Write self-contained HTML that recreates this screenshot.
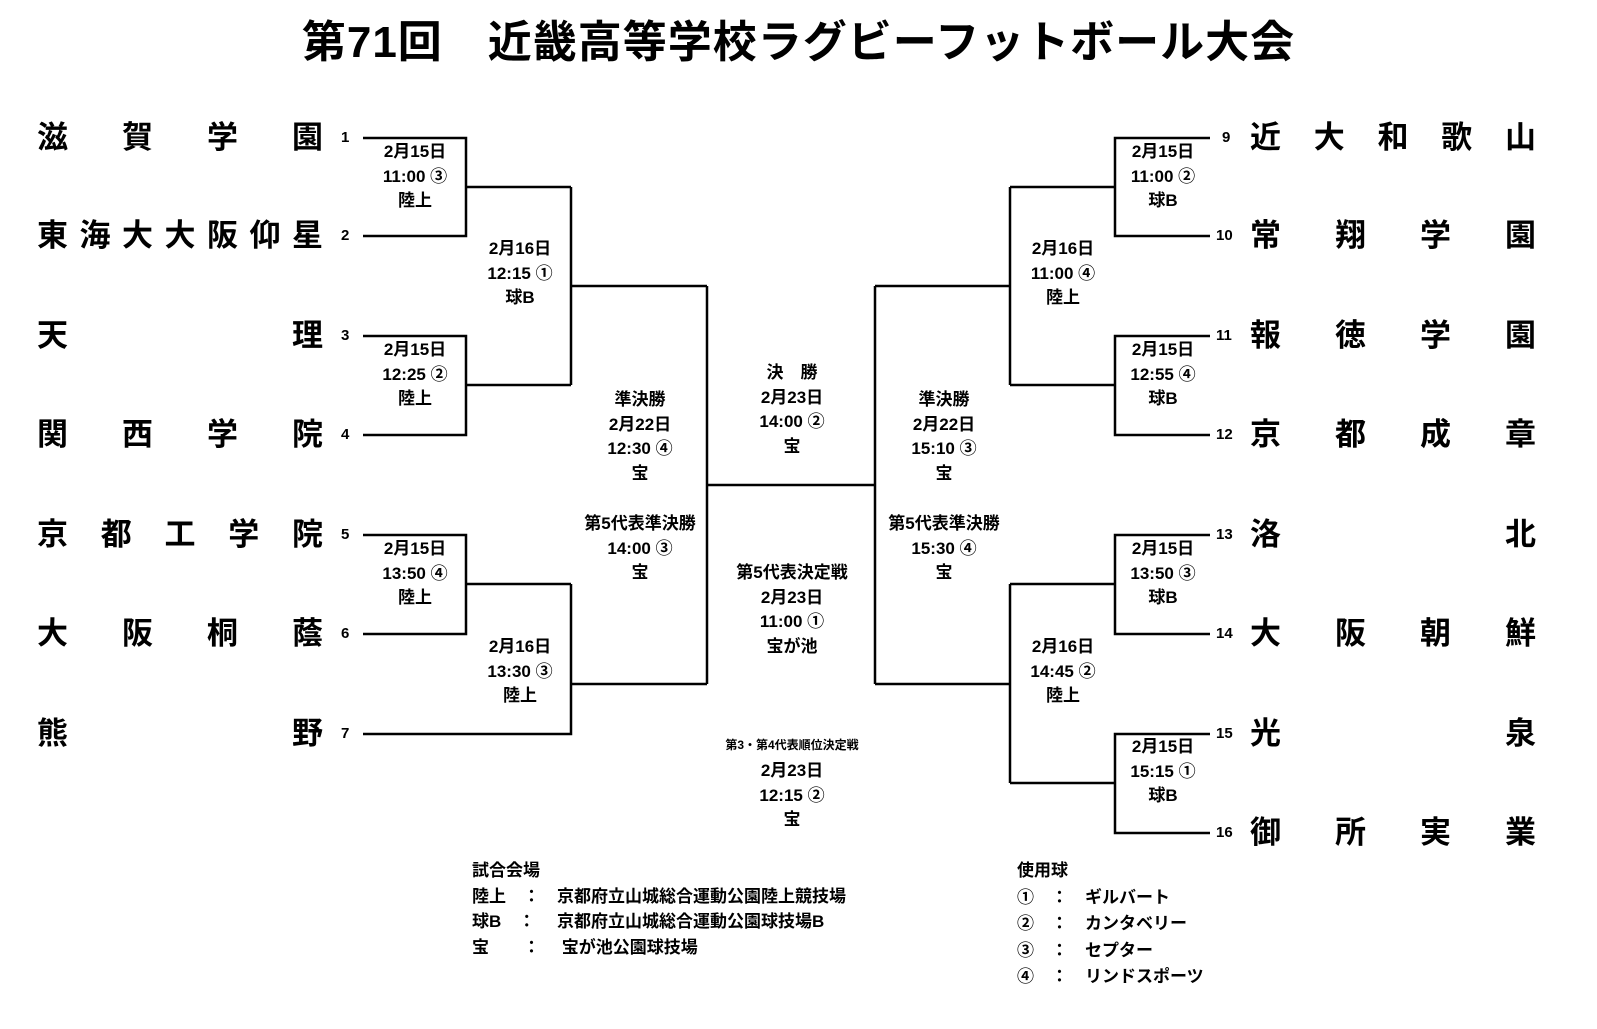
<!DOCTYPE html>
<html><head><meta charset="utf-8"><style>
body{margin:0;width:1597px;height:1029px;background:#fff;position:relative;overflow:hidden;font-family:"Liberation Sans","Noto Sans CJK JP",sans-serif;font-weight:bold;color:#000}
.t{position:absolute;left:0;top:6px;width:1597px;text-align:center;font-size:44px;letter-spacing:1px}
.n{position:absolute;display:flex;justify-content:space-between;width:286px;font-size:31px;line-height:36px;height:36px}
.num{position:absolute;font-size:15px;line-height:18px}
.l{position:absolute;width:160px;margin-left:-80px;text-align:center;font-size:17px;line-height:24.5px}
.g{position:absolute;font-size:17px;line-height:25.5px;white-space:pre}
svg{position:absolute;left:0;top:0}
</style></head><body>
<div class="t">第71回　近畿高等学校ラグビーフットボール大会</div>
<svg width="1597" height="1029" fill="none" stroke="#000" stroke-width="2.5">
<path d="M363 138H466V236H363M466 187H571M363 336H466V435H363M466 385H571M571 187V385M571 286H707M363 535H466V634H363M466 584H571M363 734H571V584M571 684H707M707 286V684M707 485H875"/>
<path d="M1210 138H1115V236H1210M1115 187H1010M1210 336H1115V435H1210M1115 385H1010M1010 187V385M1010 286H875M1210 535H1115V634H1210M1115 584H1010M1210 734H1115V833H1210M1115 783H1010M1010 584V783M1010 684H875M875 286V684"/>
</svg>
<div class="n" style="left:37px;top:120px"><span>滋</span><span>賀</span><span>学</span><span>園</span></div>
<div class="n" style="left:37px;top:218px"><span>東</span><span>海</span><span>大</span><span>大</span><span>阪</span><span>仰</span><span>星</span></div>
<div class="n" style="left:37px;top:318px"><span>天</span><span>理</span></div>
<div class="n" style="left:37px;top:417px"><span>関</span><span>西</span><span>学</span><span>院</span></div>
<div class="n" style="left:37px;top:517px"><span>京</span><span>都</span><span>工</span><span>学</span><span>院</span></div>
<div class="n" style="left:37px;top:616px"><span>大</span><span>阪</span><span>桐</span><span>蔭</span></div>
<div class="n" style="left:37px;top:716px"><span>熊</span><span>野</span></div>
<div class="n" style="left:1250px;top:120px"><span>近</span><span>大</span><span>和</span><span>歌</span><span>山</span></div>
<div class="n" style="left:1250px;top:218px"><span>常</span><span>翔</span><span>学</span><span>園</span></div>
<div class="n" style="left:1250px;top:318px"><span>報</span><span>徳</span><span>学</span><span>園</span></div>
<div class="n" style="left:1250px;top:417px"><span>京</span><span>都</span><span>成</span><span>章</span></div>
<div class="n" style="left:1250px;top:517px"><span>洛</span><span>北</span></div>
<div class="n" style="left:1250px;top:616px"><span>大</span><span>阪</span><span>朝</span><span>鮮</span></div>
<div class="n" style="left:1250px;top:716px"><span>光</span><span>泉</span></div>
<div class="n" style="left:1250px;top:815px"><span>御</span><span>所</span><span>実</span><span>業</span></div>
<div class="num" style="left:341px;top:129px">1</div>
<div class="num" style="left:341px;top:227px">2</div>
<div class="num" style="left:341px;top:327px">3</div>
<div class="num" style="left:341px;top:426px">4</div>
<div class="num" style="left:341px;top:526px">5</div>
<div class="num" style="left:341px;top:625px">6</div>
<div class="num" style="left:341px;top:725px">7</div>
<div class="num" style="left:1222px;top:129px">9</div>
<div class="num" style="left:1216px;top:227px">10</div>
<div class="num" style="left:1216px;top:327px">11</div>
<div class="num" style="left:1216px;top:426px">12</div>
<div class="num" style="left:1216px;top:526px">13</div>
<div class="num" style="left:1216px;top:625px">14</div>
<div class="num" style="left:1216px;top:725px">15</div>
<div class="num" style="left:1216px;top:824px">16</div>
<div class="l" style="left:415px;top:140px">2月15日<br>11:00 ③<br>陸上</div>
<div class="l" style="left:415px;top:338px">2月15日<br>12:25 ②<br>陸上</div>
<div class="l" style="left:415px;top:537px">2月15日<br>13:50 ④<br>陸上</div>
<div class="l" style="left:520px;top:237px">2月16日<br>12:15 ①<br>球B</div>
<div class="l" style="left:520px;top:635px">2月16日<br>13:30 ③<br>陸上</div>
<div class="l" style="left:640px;top:388px">準決勝<br>2月22日<br>12:30 ④<br>宝</div>
<div class="l" style="left:640px;top:512px">第5代表準決勝<br>14:00 ③<br>宝</div>
<div class="l" style="left:792px;top:361px">決　勝<br>2月23日<br>14:00 ②<br>宝</div>
<div class="l" style="left:792px;top:561px">第5代表決定戦<br>2月23日<br>11:00 ①<br>宝が池</div>
<div class="l" style="left:792px;top:737px;font-size:12px;line-height:16px;width:200px;margin-left:-100px">第3・第4代表順位決定戦</div>
<div class="l" style="left:792px;top:759px">2月23日<br>12:15 ②<br>宝</div>
<div class="l" style="left:944px;top:388px">準決勝<br>2月22日<br>15:10 ③<br>宝</div>
<div class="l" style="left:944px;top:512px">第5代表準決勝<br>15:30 ④<br>宝</div>
<div class="l" style="left:1063px;top:237px">2月16日<br>11:00 ④<br>陸上</div>
<div class="l" style="left:1063px;top:635px">2月16日<br>14:45 ②<br>陸上</div>
<div class="l" style="left:1163px;top:140px">2月15日<br>11:00 ②<br>球B</div>
<div class="l" style="left:1163px;top:338px">2月15日<br>12:55 ④<br>球B</div>
<div class="l" style="left:1163px;top:537px">2月15日<br>13:50 ③<br>球B</div>
<div class="l" style="left:1163px;top:735px">2月15日<br>15:15 ①<br>球B</div>
<div class="g" style="left:472px;top:858px">試合会場
陸上　：　京都府立山城総合運動公園陸上競技場
球B　：　 京都府立山城総合運動公園球技場B
宝　　：　 宝が池公園球技場</div>
<div class="g" style="left:1017px;top:858px;line-height:26.5px">使用球
①　：　ギルバート
②　：　カンタベリー
③　：　セプター
④　：　リンドスポーツ</div>
</body></html>
